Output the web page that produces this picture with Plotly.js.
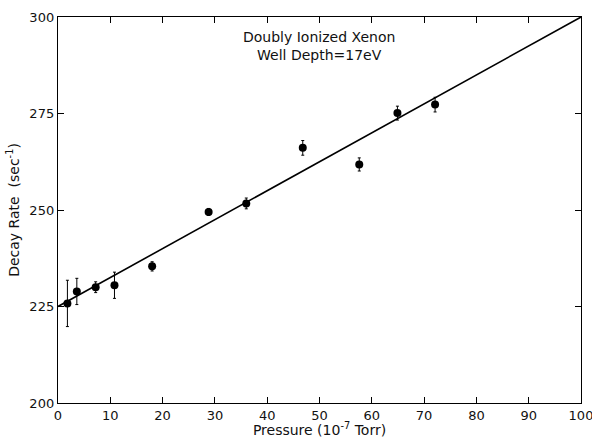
<!DOCTYPE html>
<html>
<head>
<meta charset="utf-8">
<script src="https://cdn.plot.ly/plotly-3.0.1.min.js"></script>
<style>html,body{margin:0;padding:0;background:#fff;}#chart{width:592px;height:438px;}</style>
</head>
<body>
<div id="chart"></div>
<script>
// Measured data (pressure in 1e-7 Torr, decay rate in sec^-1)
const pressure = [1.8, 3.6, 7.2, 10.8, 18.0, 28.8, 36.0, 46.8, 57.6, 64.9, 72.1];
const decayRate = [225.8, 228.9, 230.0, 230.5, 235.4, 249.5, 251.7, 266.1, 261.8, 275.1, 277.3];
const decayErr = [6.0, 3.4, 1.4, 3.4, 1.2, 0.9, 1.4, 1.9, 1.7, 1.8, 1.9];
// Fitted line endpoints
const fitX = [0, 100];
const fitY = [225, 300];
const xTicks = [0, 10, 20, 30, 40, 50, 60, 70, 80, 90, 100];
const yTicks = [200, 225, 250, 275, 300];
const annoLines = ["Doubly Ionized Xenon", "Well Depth=17eV"];

const font = {family: "DejaVu Sans, Liberation Sans, sans-serif", color: "#111"};
const f = (s) => Object.assign({size: s}, font);

const traces = [
  {
    x: fitX, y: fitY, type: "scatter", mode: "lines",
    line: {color: "#000", width: 1.6}, hoverinfo: "skip", showlegend: false,
    cliponaxis: false
  },
  {
    x: pressure, y: decayRate, type: "scatter", mode: "markers",
    marker: {color: "#000", size: 8, symbol: "circle"},
    error_y: {type: "data", array: decayErr, visible: true, color: "#000", thickness: 1, width: 1.5},
    showlegend: false
  }
];

const layout = {
  width: 592, height: 438,
  margin: {l: 58, r: 11, t: 17, b: 35},
  paper_bgcolor: "#fff", plot_bgcolor: "#fff",
  font: f(13),
  xaxis: {
    range: [0, 100.0001], tickvals: xTicks, ticktext: xTicks.map(String),
    ticks: "inside", ticklen: 6, tickcolor: "#000", tickwidth: 1,
    showline: true, linecolor: "#000", linewidth: 1.2, mirror: "ticks",
    showgrid: false, zeroline: false, ticklabeloverflow: "allow",
    tickfont: f(13), automargin: false,
    title: {text: "Pressure (10<sup>-7</sup> Torr)", font: f(14), standoff: 2}
  },
  yaxis: {
    range: [200, 300], tickvals: yTicks, ticktext: yTicks.map(String),
    ticks: "inside", ticklen: 6, tickcolor: "#000", tickwidth: 1,
    showline: true, linecolor: "#000", linewidth: 1.2, mirror: "ticks",
    showgrid: false, zeroline: false, automargin: false,
    tickfont: f(13),
    title: {text: "Decay Rate  (sec<sup>-1</sup>)", font: f(14), standoff: 6}
  },
  annotations: [
    {x: 49.9, y: 292.4, xref: "x", yref: "y", text: annoLines.join("<br>"), showarrow: false,
     align: "center", font: f(14)}
  ]
};

Plotly.newPlot("chart", traces, layout, {staticPlot: true, displayModeBar: false});
</script>
</body>
</html>
